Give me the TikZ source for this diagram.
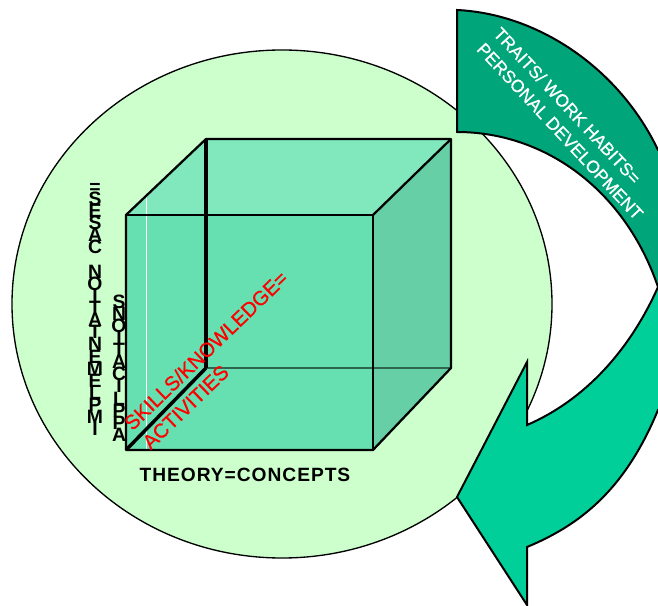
\documentclass[tikz,border=0pt]{standalone}
\usepackage{fontspec}
\setmainfont{Liberation Sans}
\newfontfamily\medfont[FakeBold=0.7]{Liberation Sans}
\newfontfamily\spacedbold[LetterSpace=5]{Liberation Sans Bold}
\definecolor{disc}{HTML}{CCFFCC}
\definecolor{front}{HTML}{66E0B0}
\definecolor{topf}{HTML}{80E8BC}
\definecolor{rightf}{HTML}{66CFA6}
\definecolor{dark}{HTML}{00A67A}
\definecolor{light}{HTML}{00CF9A}
\normallineskiplimit=-30pt
\lineskiplimit=-30pt
\tikzset{
  heavy/.style={line width=2.6pt,line join=round},
  medium/.style={line width=1.7pt,line join=round},
  arrowline/.style={line width=1.5pt,line join=miter},
  stack/.style={font=\fontsize{14.5}{9.1}\selectfont\bfseries,align=center,inner sep=0pt,text=black},
  redlabel/.style={font=\medfont\fontsize{15.2}{19.8}\selectfont,text=red,align=left,inner sep=0pt,rotate=44},
  whitelabel/.style={font=\medfont\fontsize{13.2}{17}\selectfont,text=white,align=left,inner sep=0pt,rotate=-47}
}
\begin{document}
\begin{tikzpicture}[x=0.75pt,y=-0.75pt]
\useasboundingbox (0,0) rectangle (658,606);
\begin{scope}
\clip (0,0) rectangle (658,606);
% disc
\draw[fill=disc,line width=1pt] (282,304) ellipse [x radius=270,y radius=254];
% cube faces
\fill[front] (126,215) -- (373,215) -- (373,450) -- (126,450) -- cycle;
\fill[topf] (126,215) -- (206,139) -- (451,139) -- (373,215) -- cycle;
\fill[rightf] (373,215) -- (451,139) -- (451,368) -- (373,450) -- cycle;
\draw[white,line width=0.7pt] (146,197) -- (146,450);
\draw[black!55!front,line width=1.2pt] (206,368) -- (451,368);
% cube edges
\draw[heavy] (206,139) -- (206,368);
\draw[heavy] (126,450) -- (206,368);
\draw[medium] (126,215) -- (373,215);
\draw[medium] (206,139) -- (451,139) -- (451,368) -- (373,450) -- (126,450) -- (126,215) -- cycle;
\draw[medium] (373,215) -- (373,450);
\draw[medium] (373,215) -- (451,139);
% arrow, lower part
\draw[fill=light,arrowline] (668,287) -- (658,287)
  .. controls (630,350) and (585,400) .. (527,425)
  -- (527,362) -- (457,497) -- (527,605) -- (527,547)
  .. controls (580,525) and (625,490) .. (658,410)
  -- (668,410) -- cycle;
% arrow, upper part
\draw[fill=dark,arrowline] (457,10)
  .. controls (540,14) and (620,70) .. (658,150)
  -- (668,150) -- (668,287) -- (658,287)
  .. controls (625,190) and (545,132) .. (457,132)
  -- cycle;
\end{scope}
% labels
\node[stack] (cases) at (95,309.5) {=\\S\\E\\S\\A\\C\\\mbox{}\\N\\O\\I\\T\\A\\T\\N\\E\\M\\E\\L\\P\\M\\I};
\node[stack] (apps) at (119,368) {S\\N\\O\\I\\T\\A\\C\\I\\L\\P\\P\\A};
\node[font=\spacedbold\fontsize{14.4}{18}\selectfont,inner sep=0pt] (theory) at (245,475) {THEORY=CONCEPTS};
\node[redlabel] (skills) at (215,360) {SKILLS/KNOWLEDGE=\\ACTIVITIES};
\node[whitelabel] (traits) at (568.5,123.5) {TRAITS/ WORK HABITS=\\PERSONAL DEVELOPMENT};
\end{tikzpicture}
\end{document}
